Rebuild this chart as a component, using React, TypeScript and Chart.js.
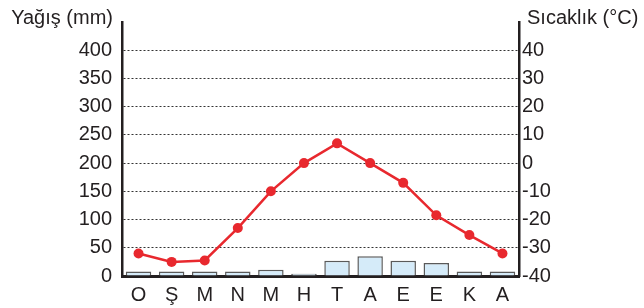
import { useEffect, useRef } from 'react';
import { Chart, registerables } from 'chart.js';
Chart.register(...registerables);

const months = ['O', 'Ş', 'M', 'N', 'M', 'H', 'T', 'A', 'E', 'E', 'K', 'A'];
const rainfall = [8, 8, 8, 8, 11, 4, 27, 35, 27, 23, 8, 8];
const temperature = [-32, -35, -34.5, -23, -10, 0, 7, 0, -7, -18.5, -25.5, -32];
const rainTicks = [0, 50, 100, 150, 200, 250, 300, 350, 400];
const tempTicks = [-40, -30, -20, -10, 0, 10, 20, 30, 40];
const leftTitle = 'Yağış (mm)';
const rightTitle = 'Sıcaklık (°C)';

const FONT = '"Liberation Sans", Arial, sans-serif';
const INK = '#231f20';
const SIZE = 20;

const titlePlugin = {
  id: 'axisTitles',
  afterDraw(chart: any) {
    const { ctx, chartArea } = chart;
    ctx.save();
    ctx.font = `${SIZE}px ${FONT}`;
    ctx.fillStyle = INK;
    ctx.textBaseline = 'middle';
    ctx.textAlign = 'right';
    ctx.fillText(leftTitle, chartArea.left - 9, 18);
    ctx.textAlign = 'left';
    ctx.fillText(rightTitle, chartArea.right + 8, 18);
    ctx.restore();
  },
};

export default function App() {
  const ref = useRef<HTMLCanvasElement>(null);
  useEffect(() => {
    if (!ref.current) return;
    const chart = new Chart(ref.current, {
      data: {
        labels: months,
        datasets: [
          {
            type: 'line',
            data: temperature,
            yAxisID: 'y1',
            borderColor: '#e8282e',
            backgroundColor: '#e8282e',
            borderWidth: 2.5,
            pointRadius: 5,
            pointBorderWidth: 0,
            order: 0,
          },
          {
            type: 'bar',
            data: rainfall,
            yAxisID: 'y',
            backgroundColor: '#d5ebf9',
            borderColor: '#5a5a5a',
            borderWidth: 1.5,
            categoryPercentage: 0.77,
            barPercentage: 1,
            order: 1,
          },
        ],
      } as any,
      options: {
        animation: false,
        responsive: false,
        layout: { padding: { top: 18, left: 0, right: 0, bottom: 0 } },
        plugins: { legend: { display: false }, tooltip: { enabled: false } },
        scales: {
          x: {
            grid: { display: false },
            border: { display: true, color: INK, width: 3 },
            ticks: { color: INK, font: { family: FONT, size: SIZE }, padding: -1 },
            afterFit: (s: any) => { s.height = 32; },
          },
          y: {
            position: 'left',
            min: 0,
            max: 450,
            afterBuildTicks: (s: any) => { s.ticks = rainTicks.map((v) => ({ value: v })); },
            grid: {
              drawTicks: false,
              color: (c: any) => (c.tick && c.tick.value === 0 ? 'rgba(0,0,0,0)' : '#333'),
              lineWidth: 1,
            },
            border: { display: true, color: INK, width: 2.5, dash: [2, 2] },
            ticks: { color: INK, font: { family: FONT, size: SIZE }, padding: 10 },
            afterFit: (s: any) => { s.width = 122; },
          },
          y1: {
            position: 'right',
            min: -40,
            max: 50,
            afterBuildTicks: (s: any) => { s.ticks = tempTicks.map((v) => ({ value: v })); },
            grid: { display: false, drawTicks: false },
            border: { display: true, color: INK, width: 2.5 },
            ticks: { color: INK, font: { family: FONT, size: SIZE }, padding: 3 },
            afterFit: (s: any) => { s.width = 125; },
          },
        },
      } as any,
      plugins: [titlePlugin],
    });
    return () => chart.destroy();
  }, []);
  return (
    <div style={{ position: 'fixed', left: 0, top: 0, width: 644, height: 308, background: '#fff' }}>
      <canvas ref={ref} width={644} height={308} />
    </div>
  );
}
